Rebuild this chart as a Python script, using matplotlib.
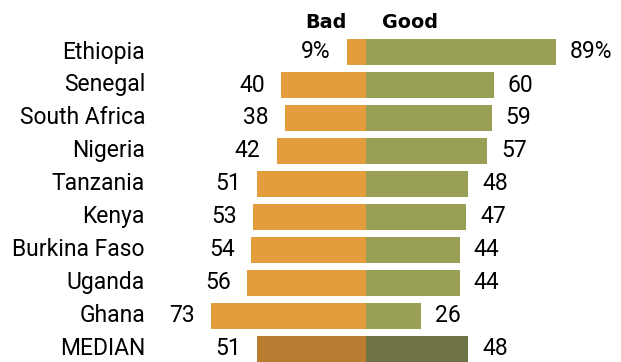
import matplotlib
matplotlib.use("Agg")
import matplotlib.pyplot as plt
import matplotlib.transforms as mtransforms
from matplotlib import font_manager

countries = ["Ethiopia", "Senegal", "South Africa", "Nigeria", "Tanzania",
             "Kenya", "Burkina Faso", "Uganda", "Ghana", "MEDIAN"]
bad = [9, 40, 38, 42, 51, 53, 54, 56, 73, 51]
good = [89, 60, 59, 57, 48, 47, 44, 44, 26, 48]
bad_labels = ["9%"] + [str(v) for v in bad[1:]]
good_labels = ["89%"] + [str(v) for v in good[1:]]

names = {f.name for f in font_manager.fontManager.ttflist}
fam = [f for f in ["Roboto", "DejaVu Sans"] if f in names]

W, H = 621, 362
fig = plt.figure(figsize=(W / 100, H / 100), dpi=100)
ax = fig.add_axes([0, 0, 1, 1])
ppu = 2.13
cx = 366
ax.set_xlim(-cx / ppu, (W - cx) / ppu)
row0, step = 52, 33
ax.set_ylim((H - row0) / step, -row0 / step)
ax.axis("off")

c_bad = ["#E39D3D"] * 9 + ["#B97C30"]
c_good = ["#9A9F56"] * 9 + ["#6F7344"]
ys = list(range(len(countries)))
ax.barh(ys, [-b for b in bad], height=0.76, color=c_bad, edgecolor="none")
ax.barh(ys, good, height=0.76, color=c_good, edgecolor="none")

blend = mtransforms.blended_transform_factory(ax.transAxes, ax.transData)
fs = 16.5
for y, name, b, g, bl, gl in zip(ys, countries, bad, good, bad_labels, good_labels):
    ax.text(145 / W, y, name, transform=blend, ha="right", va="center",
            fontsize=fs, family=fam)
    ax.annotate(bl, (-b, y), xytext=(-16, 0), textcoords="offset pixels", ha="right",
                va="center", fontsize=fs, family=fam)
    ax.annotate(gl, (g, y), xytext=(14, 0), textcoords="offset pixels", ha="left",
                va="center", fontsize=fs, family=fam)

ax.annotate("Bad", (0, -0.9), xytext=(-19, 0), textcoords="offset pixels", ha="right",
            va="center", fontsize=13.8, fontweight="bold", family="DejaVu Sans")
ax.annotate("Good", (0, -0.9), xytext=(16, 0), textcoords="offset pixels", ha="left",
            va="center", fontsize=13.8, fontweight="bold", family="DejaVu Sans")

fig.savefig("out.png", dpi=100)
